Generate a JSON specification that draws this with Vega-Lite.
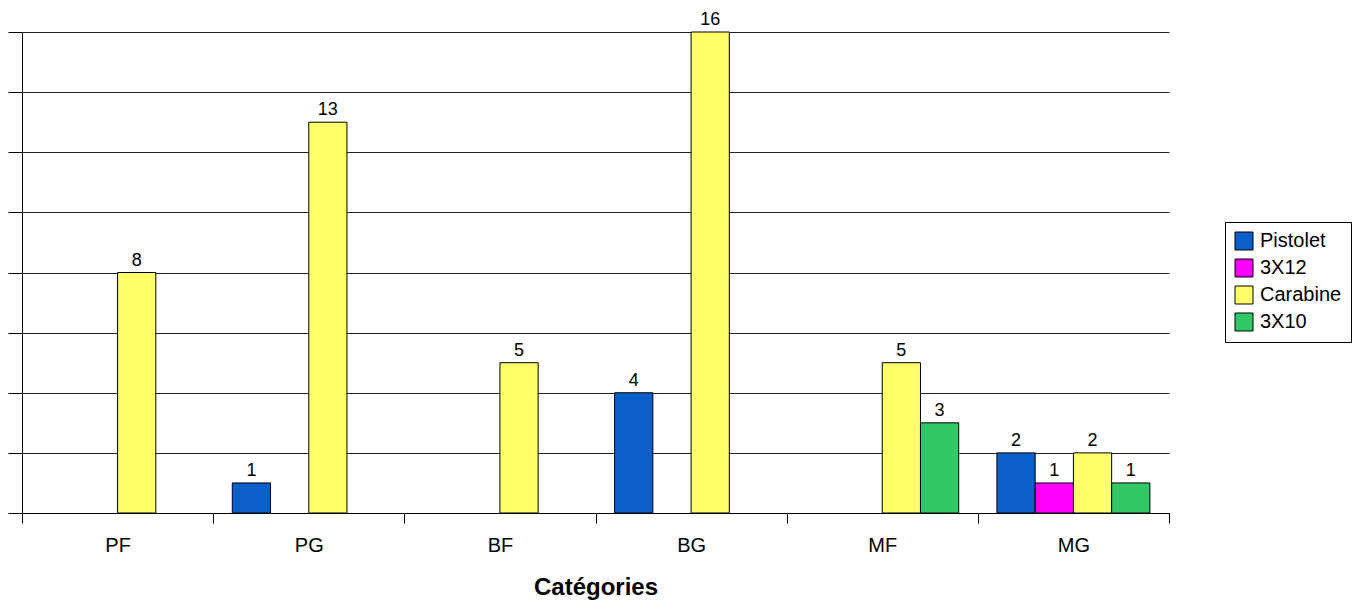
{
  "$schema": "https://vega.github.io/schema/vega-lite/v6.json",
  "width": 1147,
  "height": 481,
  "autosize": {"type": "none"},
  "padding": {"left": 22, "top": 32, "right": 184, "bottom": 91},
  "background": "white",
  "data": {
    "values": [
      {"cat": "PF", "serie": "Carabine", "v": 8},
      {"cat": "PG", "serie": "Pistolet", "v": 1},
      {"cat": "PG", "serie": "Carabine", "v": 13},
      {"cat": "BF", "serie": "Carabine", "v": 5},
      {"cat": "BG", "serie": "Pistolet", "v": 4},
      {"cat": "BG", "serie": "Carabine", "v": 16},
      {"cat": "MF", "serie": "Carabine", "v": 5},
      {"cat": "MF", "serie": "3X10", "v": 3},
      {"cat": "MG", "serie": "Pistolet", "v": 2},
      {"cat": "MG", "serie": "3X12", "v": 1},
      {"cat": "MG", "serie": "Carabine", "v": 2},
      {"cat": "MG", "serie": "3X10", "v": 1}
    ]
  },
  "encoding": {
    "x": {
      "field": "cat",
      "type": "nominal",
      "sort": ["PF", "PG", "BF", "BG", "MF", "MG"],
      "scale": {"paddingInner": 0, "paddingOuter": 0},
      "title": "Catégories",
      "axis": {
        "labelAngle": 0,
        "tickBand": "extent",
        "tickSize": 10,
        "tickColor": "#000",
        "domainColor": "#000",
        "labelFontSize": 20,
        "labelPadding": 12,
        "labelColor": "#000",
        "labelFont": "Liberation Sans",
        "titleFont": "Liberation Sans",
        "titleFontSize": 24,
        "titleFontWeight": "bold",
        "titleColor": "#000",
        "titlePadding": 20
      }
    },
    "xOffset": {
      "field": "serie",
      "type": "nominal",
      "scale": {"domain": ["Pistolet", "3X12", "Carabine", "3X10"], "paddingInner": 0, "paddingOuter": 0.5}
    },
    "y": {
      "field": "v",
      "type": "quantitative",
      "scale": {"domain": [0, 16], "nice": false},
      "axis": {
        "values": [0, 2, 4, 6, 8, 10, 12, 14, 16],
        "labels": false,
        "title": null,
        "grid": true,
        "gridColor": "#222",
        "gridOpacity": 1,
        "tickSize": 14,
        "tickColor": "#000",
        "domainColor": "#000"
      }
    }
  },
  "layer": [
    {
      "mark": {"type": "bar", "stroke": "#000", "strokeWidth": 1},
      "encoding": {
        "color": {
          "field": "serie",
          "type": "nominal",
          "scale": {"domain": ["Pistolet", "3X12", "Carabine", "3X10"], "range": ["#0a60c8", "#ff00ff", "#ffff6a", "#33c866"]},
          "legend": {
            "orient": "none",
            "legendX": 1203,
            "legendY": 190,
            "title": null,
            "strokeColor": "#000",
            "fillColor": "#fff",
            "padding": 9,
            "symbolType": "square",
            "symbolSize": 324,
            "symbolStrokeColor": "#000",
            "symbolStrokeWidth": 1,
            "labelFontSize": 20,
            "labelOffset": 6,
            "labelFont": "Liberation Sans",
            "labelColor": "#000",
            "rowPadding": 5
          }
        }
      }
    },
    {
      "mark": {"type": "text", "baseline": "alphabetic", "dy": -7, "fontSize": 18, "font": "Liberation Sans", "color": "#000"},
      "encoding": {"text": {"field": "v", "type": "quantitative"}}
    }
  ],
  "config": {"view": {"stroke": null}}
}
